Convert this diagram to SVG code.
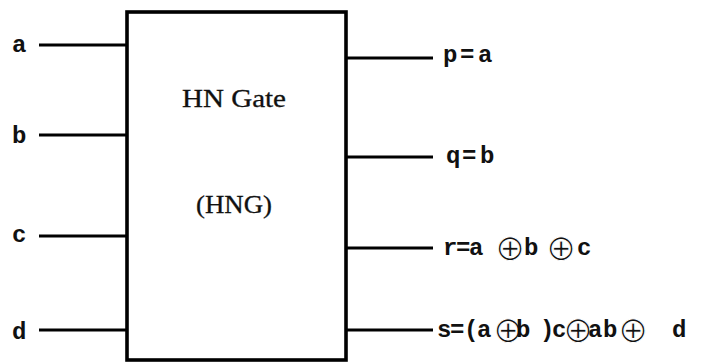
<svg xmlns="http://www.w3.org/2000/svg" width="701" height="363" viewBox="0 0 701 363">
  <style>
    .wire { stroke: #000; stroke-width: 3.2; fill: none; }
    .box { stroke: #000; stroke-width: 3.6; fill: #fff; }
    .sig { font-family: "Liberation Mono", "Courier New", monospace; font-weight: bold; font-size: 24px; fill: #111; }
    .op { font-family: "DejaVu Sans", sans-serif; font-weight: normal; font-size: 36px; stroke: #fff; stroke-width: 1; }
    .title { font-family: "Liberation Serif", "Times New Roman", serif; font-size: 25px; fill: #111; stroke: #111; stroke-width: 0.3; }
  </style>
  <rect width="701" height="363" fill="#fff"/>
  <g id="gate">
    <rect class="box" x="127" y="12" width="219" height="348"/>
    <text class="title" x="182" y="107" textLength="104" lengthAdjust="spacingAndGlyphs">HN Gate</text>
    <text class="title" x="196" y="213" textLength="76" lengthAdjust="spacingAndGlyphs">(HNG)</text>
  </g>
  <g id="connectors">
    <line class="wire" x1="39" y1="45" x2="127" y2="45"/>
    <line class="wire" x1="39" y1="135" x2="127" y2="135"/>
    <line class="wire" x1="39" y1="236" x2="127" y2="236"/>
    <line class="wire" x1="39" y1="330" x2="127" y2="330"/>
    <line class="wire" x1="346" y1="58" x2="433" y2="58"/>
    <line class="wire" x1="346" y1="157" x2="433" y2="157"/>
    <line class="wire" x1="346" y1="248" x2="433" y2="248"/>
    <line class="wire" x1="346" y1="330" x2="433" y2="330"/>
  </g>
  <g id="input-a"><text class="sig" x="12" y="52">a</text></g>
  <g id="input-b"><text class="sig" x="12" y="143">b</text></g>
  <g id="input-c"><text class="sig" x="12" y="242">c</text></g>
  <g id="input-d"><text class="sig" x="12" y="339">d</text></g>
  <g id="output-p"><text class="sig" x="443 460 478" y="62">p=a</text></g>
  <g id="output-q"><text class="sig" x="446 462 480" y="163">q=b</text></g>
  <g id="output-r">
    <text class="sig" y="255"><tspan x="443">r</tspan><tspan x="456">=</tspan><tspan x="469">a</tspan><tspan class="op" x="495" dy="5">⊕</tspan><tspan x="524" dy="-5">b</tspan><tspan class="op" x="546" dy="5">⊕</tspan><tspan x="577" dy="-5">c</tspan></text>
  </g>
  <g id="output-s">
    <text class="sig" y="337"><tspan x="437">s</tspan><tspan x="450">=</tspan><tspan x="464">(</tspan><tspan x="477">a</tspan><tspan class="op" x="493" dy="5">⊕</tspan><tspan x="516" dy="-5">b</tspan><tspan x="540">)</tspan><tspan x="552">c</tspan><tspan class="op" x="563" dy="5">⊕</tspan><tspan x="588" dy="-5">a</tspan><tspan x="603">b</tspan><tspan class="op" x="618" dy="5">⊕</tspan><tspan x="672" dy="-5">d</tspan></text>
  </g>
</svg>
